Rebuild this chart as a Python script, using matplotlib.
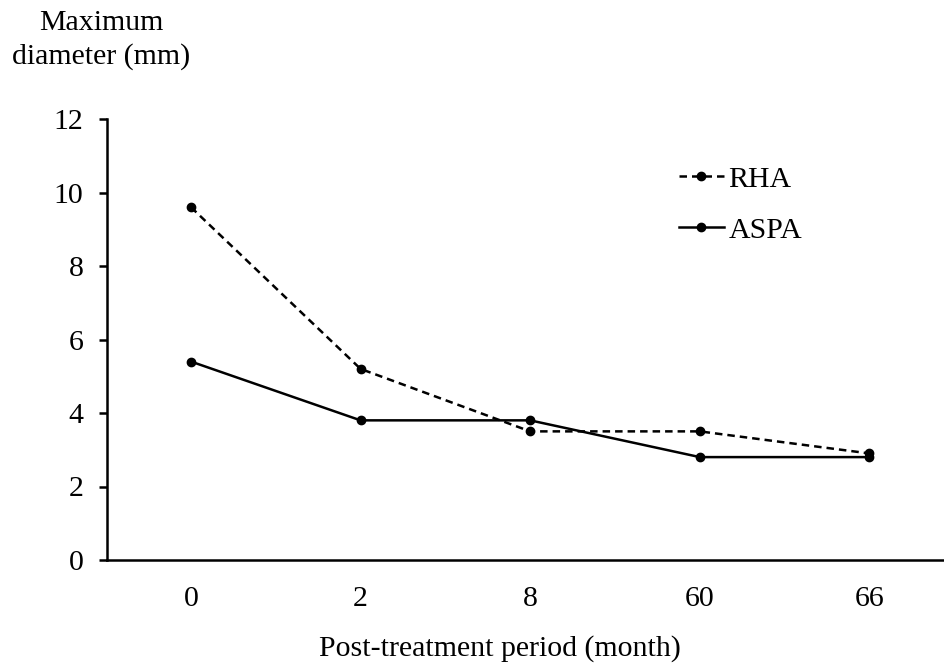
import matplotlib
matplotlib.use("Agg")
import matplotlib.pyplot as plt

categories = ["0", "2", "8", "60", "66"]
rha = [9.6, 5.2, 3.5, 3.5, 2.9]
aspa = [5.4, 3.8, 3.8, 2.8, 2.8]
yticks = [0, 2, 4, 6, 8, 10, 12]

plt.rcParams['font.family'] = ['Liberation Serif', 'DejaVu Serif']
FS = 21.5

fig = plt.figure(figsize=(9.44, 6.65), dpi=100)
W, H = 944, 665
left, right, top, bottom = 107, 944, 119, 560
ax = fig.add_axes([left / W, (H - bottom) / H, (right - left) / W, (bottom - top) / H])

x = list(range(len(categories)))
ax.plot(x, rha, color='black', lw=1.8, ls=(0, (3.0, 2.0)), marker='o', ms=6, label='RHA')
ax.plot(x, aspa, color='black', lw=1.8, ls='-', marker='o', ms=6, label='ASPA')

ax.set_xlim(-0.495, 4.44)
ax.set_ylim(0, 12)
ax.set_xticks(x)
ax.set_xticklabels(categories)
ax.set_yticks(yticks)
ax.tick_params(axis='x', length=0, pad=19, labelsize=FS)
ax.tick_params(axis='y', length=6, width=1.8, direction='out', pad=11, labelsize=FS)
for s in ['top', 'right']:
    ax.spines[s].set_visible(False)
for s in ['left', 'bottom']:
    ax.spines[s].set_linewidth(1.8)

fig.text(101 / W, 1 - 40 / H, "Maximum\ndiameter (mm)", ha='center', va='center',
         fontsize=FS, linespacing=1.32)
fig.text(500 / W, 1 - 649 / H, "Post-treatment period (month)", ha='center', va='center', fontsize=FS)

leg = ax.legend(loc='upper left', bbox_to_anchor=(679 / W, 1 - 166 / H), bbox_transform=fig.transFigure,
                frameon=False, fontsize=FS, handlelength=1.5, handletextpad=0.15,
                labelspacing=0.8, borderaxespad=0, borderpad=0)

fig.savefig("out.png", dpi=100)
